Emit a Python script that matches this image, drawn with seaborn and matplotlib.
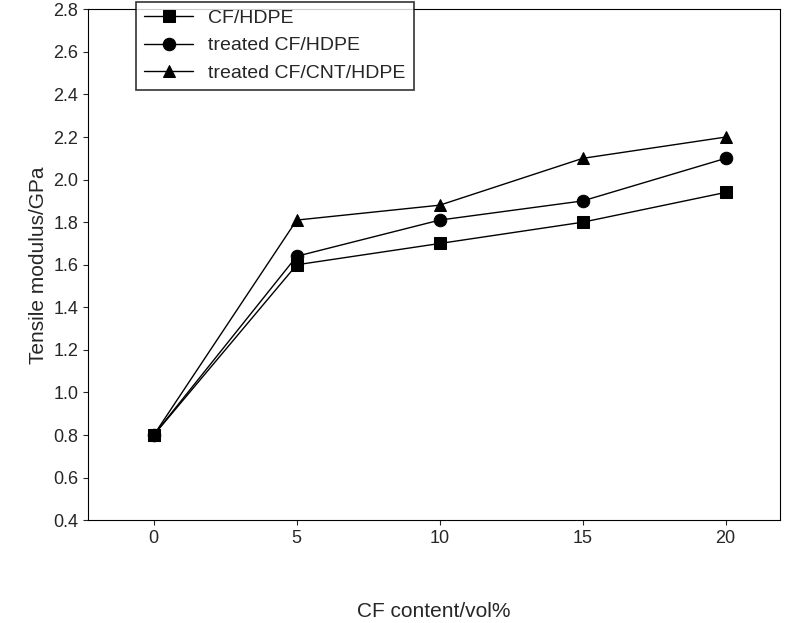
"""
Tensile modulus plot for CF/HDPE composites
============================================
Script untuk menggambar modulus tarik terhadap kandungan CF.
"""

import pandas as pd
import numpy as np
import matplotlib
matplotlib.use('Agg')
import matplotlib.pyplot as plt
import seaborn as sns
import warnings

warnings.filterwarnings('ignore')

cf_content = [0, 5, 10, 15, 20]
cf_hdpe = [0.80, 1.60, 1.70, 1.80, 1.94]
treated_cf_hdpe = [0.80, 1.64, 1.81, 1.90, 2.10]
treated_cf_cnt_hdpe = [0.80, 1.81, 1.88, 2.10, 2.20]
series_names = ['CF/HDPE', 'treated CF/HDPE', 'treated CF/CNT/HDPE']


def build_frame():
    """Gabungkan semua seri ke satu DataFrame panjang."""
    frames = []
    for name, values in zip(series_names, [cf_hdpe, treated_cf_hdpe, treated_cf_cnt_hdpe]):
        frames.append(pd.DataFrame({'x': cf_content, 'y': values, 'series': name}))
    return pd.concat(frames, ignore_index=True)


def plot_modulus(out_path: str = 'out.png'):
    """Gambar grafik dan simpan ke file."""
    sns.set_style('ticks')
    plt.rcParams['font.family'] = ['Liberation Sans', 'DejaVu Sans']

    df = build_frame()
    fig, ax = plt.subplots(figsize=(8, 6.23), dpi=100)
    sns.lineplot(data=df, x='x', y='y', hue='series', style='series',
                 markers=['s', 'o', '^'], dashes=False,
                 palette=['black'] * 3, markersize=9, linewidth=1,
                 markeredgecolor='black', ax=ax)

    ax.set_xlim(-2.3, 21.9)
    ax.set_ylim(0.4, 2.8)
    ax.set_xticks(cf_content)
    ax.set_yticks(np.arange(0.4, 2.81, 0.2))
    ax.set_yticklabels([f'{v:.1f}' for v in np.arange(0.4, 2.81, 0.2)])
    ax.tick_params(labelsize=13)
    for side in ['left', 'right', 'top', 'bottom']:
        ax.spines[side].set_visible(True)
        ax.spines[side].set_color('black')
    ax.set_xlabel('CF content/vol%', fontsize=15, labelpad=40)
    ax.set_ylabel('Tensile modulus/GPa', fontsize=15)

    leg = ax.legend(loc='upper left', bbox_to_anchor=(0.07, 1.015), fontsize=14,
                    frameon=True, fancybox=False, edgecolor='black',
                    borderaxespad=0.0, handlelength=2.5)
    leg.get_frame().set_linewidth(1.2)

    ax.set_position([0.11, 0.165, 0.865, 0.82])  # area plot sesuai referensi
    plt.savefig(out_path, dpi=100)
    plt.close()


if __name__ == '__main__':
    plot_modulus()
